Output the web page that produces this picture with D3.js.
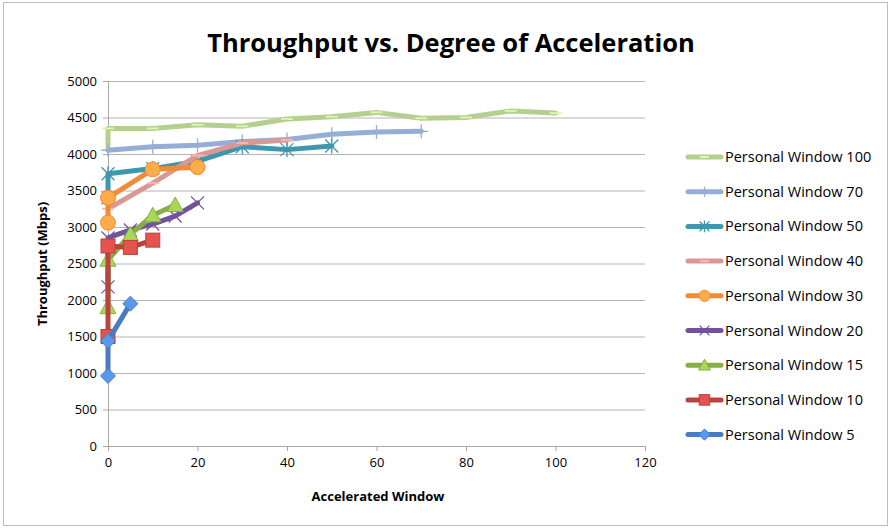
<html>
<head>
<script src="https://d3js.org/d3.v7.min.js"></script>
<style>
  body { margin: 0; background: #fff; }
  svg text { font-family: "Open Sans", "Liberation Sans", sans-serif; fill: #000; }
  .grid line { stroke: #b4b4b4; }
  .grid .domain { stroke: none; }
  .axis .domain { stroke: #a8a8a8; }
  .axis line { stroke: #a8a8a8; }
</style>
</head>
<body>
<svg id="chart" width="890" height="529"></svg>
<script>
// series names, legend order (top to bottom)
const seriesNames = ["Personal Window 100", "Personal Window 70", "Personal Window 50", "Personal Window 40",
  "Personal Window 30", "Personal Window 20", "Personal Window 15", "Personal Window 10", "Personal Window 5"];

// [accelerated window, throughput]
const pw100 = [[0, 4060], [0, 4350], [10, 4350], [20, 4400], [30, 4380], [40, 4480], [50, 4510], [60, 4570], [70, 4490], [80, 4500], [90, 4590], [100, 4560]];
const pw70 = [[0, 4050], [10, 4100], [20, 4120], [30, 4170], [40, 4200], [50, 4270], [60, 4300], [70, 4310]];
const pw50 = [[0, 3400], [0, 3730], [10, 3800], [20, 3900], [30, 4100], [40, 4060], [50, 4110]];
const pw40 = [[0, 3250], [10, 3600], [20, 3980], [30, 4150], [40, 4190]];
const pw30 = [[0, 3060], [0, 3400], [10, 3790], [20, 3820]];
const pw20 = [[0, 2180], [0, 2850], [5, 2960], [10, 3040], [15, 3150], [20, 3330]];
const pw15 = [[0, 1900], [0, 2550], [5, 2900], [10, 3160], [15, 3300]];
const pw10 = [[0, 1500], [0, 2740], [5, 2720], [10, 2820]];
const pw5 = [[0, 960], [0, 1440], [5, 1950]];

const xTicks = [0, 20, 40, 60, 80, 100, 120];
const yTicks = [0, 500, 1000, 1500, 2000, 2500, 3000, 3500, 4000, 4500, 5000];

const seriesData = [pw100, pw70, pw50, pw40, pw30, pw20, pw15, pw10, pw5];
const colors = ["#b4cf8e", "#95aed8", "#3f97ad", "#d99896", "#ef8b3b", "#71539b", "#88ae47", "#b9433f", "#497bc0"];
const markers = ["dash", "plus", "star", "dash", "circle", "x", "triangle", "square", "diamond"];

const svg = d3.select("svg#chart");
const margin = { top: 81, left: 108, right: 245, bottom: 83 };
const width = 890, height = 529;

svg.append("rect").attr("x", 3.5).attr("y", 2.5).attr("width", 884).attr("height", 523)
  .attr("fill", "none").attr("stroke", "#bdbdbd");

const x = d3.scaleLinear().domain([0, 120]).range([margin.left, width - margin.right]);
const y = d3.scaleLinear().domain([0, 5000]).range([height - margin.bottom, margin.top]);

// gridlines
svg.append("g").attr("class", "grid")
  .attr("transform", `translate(${margin.left},0)`)
  .call(d3.axisLeft(y).tickValues(yTicks).tickSize(-(x(120) - x(0))).tickFormat(""));

// axes
let yAxis = svg.append("g").attr("class", "axis")
  .attr("transform", `translate(${x(0)},0)`)
  .call(d3.axisLeft(y).tickValues(yTicks).tickSize(5).tickPadding(6).tickFormat(d3.format("d")));
yAxis.selectAll("text").style("font-size", "13px");

let xAxis = svg.append("g").attr("class", "axis")
  .attr("transform", `translate(0,${y(0)})`)
  .call(d3.axisBottom(x).tickValues(xTicks).tickSize(5).tickPadding(7).tickFormat(d3.format("d")));
xAxis.selectAll("text").style("font-size", "13px");

// title & axis labels
svg.append("text").attr("x", 451).attr("y", 52).attr("text-anchor", "middle")
  .style("font-size", "25.5px").style("font-weight", "bold")
  .text("Throughput vs. Degree of Acceleration");
svg.append("text").attr("x", 378).attr("y", 501).attr("text-anchor", "middle")
  .style("font-size", "13px").style("font-weight", "bold").text("Accelerated Window");
svg.append("text").attr("transform", "translate(47,264) rotate(-90)").attr("text-anchor", "middle")
  .style("font-size", "13px").style("font-weight", "bold").text("Throughput (Mbps)");

function drawMarker(g, type, color, cx, cy, small) {
  const k = small ? 0.75 : 1;
  const light = d3.color(color).brighter(0.6);
  if (type == "circle") {
    g.append("circle").attr("cx", cx).attr("cy", cy).attr("r", 7.5 * k)
      .attr("fill", light).attr("stroke", color).attr("stroke-width", 1);
  } else if (type == "square") {
    const s = 14 * k;
    g.append("rect").attr("x", cx - s / 2).attr("y", cy - s / 2).attr("width", s).attr("height", s)
      .attr("fill", light).attr("stroke", color).attr("stroke-width", 1);
  } else if (type == "triangle") {
    const s = 8 * k;
    g.append("path").attr("d", `M${cx},${cy - s}L${cx + s},${cy + s * 0.8}L${cx - s},${cy + s * 0.8}Z`)
      .attr("fill", light).attr("stroke", color).attr("stroke-width", 1);
  } else if (type == "diamond") {
    const s = 7.5 * k;
    g.append("path").attr("d", `M${cx},${cy - s}L${cx + s},${cy}L${cx},${cy + s}L${cx - s},${cy}Z`)
      .attr("fill", light).attr("stroke", color).attr("stroke-width", 1);
  } else if (type == "x") {
    const s = 6.5 * k;
    g.append("path").attr("d", `M${cx - s},${cy - s}L${cx + s},${cy + s}M${cx + s},${cy - s}L${cx - s},${cy + s}`)
      .attr("stroke", color).attr("stroke-width", 1.3);
  } else if (type == "plus") {
    const s = 7 * k;
    g.append("path").attr("d", `M${cx - s},${cy}L${cx + s},${cy}M${cx},${cy - s}L${cx},${cy + s}`)
      .attr("stroke", color).attr("stroke-width", 1.3);
  } else if (type == "star") {
    const s = 6.5 * k;
    g.append("path").attr("d", `M${cx - s},${cy - s}L${cx + s},${cy + s}M${cx + s},${cy - s}L${cx - s},${cy + s}M${cx},${cy - s - 1}L${cx},${cy + s + 1}`)
      .attr("stroke", color).attr("stroke-width", 1.3);
  } else if (type == "dash") {
    g.append("line").attr("x1", cx - 6 * k).attr("x2", cx + 6 * k).attr("y1", cy).attr("y2", cy)
      .attr("stroke", d3.color(color).brighter(0.5)).attr("stroke-width", 2);
  }
}

const line = d3.line().x(d => x(d[0])).y(d => y(d[1]));
const plot = svg.append("g");

seriesData.forEach((data, i) => {
  const g = plot.append("g");
  g.append("path").datum(data).attr("d", line)
    .attr("fill", "none").attr("stroke", colors[i]).attr("stroke-width", 5)
    .attr("stroke-linejoin", "round").attr("stroke-linecap", "round");
  data.forEach(d => drawMarker(g, markers[i], colors[i], x(d[0]), y(d[1]), false));
});

// legend
const legend = svg.append("g");
seriesNames.forEach((name, i) => {
  const ly = 157 + i * 34.7;
  const g = legend.append("g");
  g.append("line").attr("x1", 688).attr("x2", 721).attr("y1", ly).attr("y2", ly)
    .attr("stroke", colors[i]).attr("stroke-width", 5).attr("stroke-linecap", "round");
  drawMarker(g, markers[i], colors[i], 704.5, ly, true);
  g.append("text").attr("x", 725).attr("y", ly + 5).style("font-size", "14.5px").text(name);
});
</script>
</body>
</html>
